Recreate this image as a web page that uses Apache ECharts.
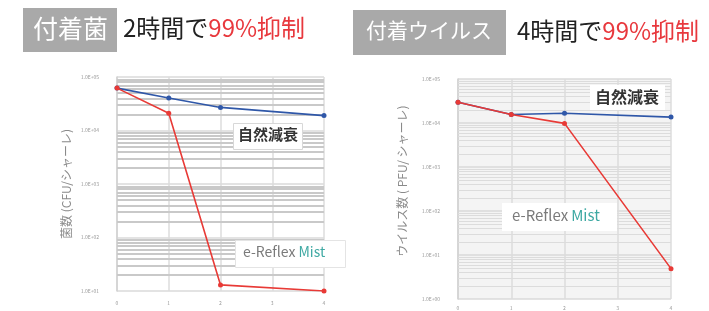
<!DOCTYPE html>
<html>
<head>
<meta charset="utf-8">
<style>
  html, body { margin: 0; padding: 0; background: #fff; }
  #chart-wrapper { width: 709px; height: 311px; }
</style>
<script src="https://cdn.jsdelivr.net/npm/echarts@6/dist/echarts.min.js"></script>
</head>
<body>
<div id="chart-wrapper"></div>
<script>
// hours after treatment
const hours = ["0", "1", "2", "3", "4"];

// left: adhered bacteria (CFU/dish)
const bacteriaNatural = [62000, 40600, 27000, null, 19000];
const bacteriaMist = [62000, 21000, 13, null, 10];

// right: adhered virus (PFU/dish)
const virusNatural = [29500, 15600, 16700, null, 13600];
const virusMist = [29500, 15600, 9800, null, 4.9];

// minor grid multipliers inside each decade
const minorSteps = [2, 3, 4, 5, 6, 7, 8, 9];
const bacteriaDecades = [10, 100, 1000, 10000];
const virusDecades = [1, 10, 100, 1000, 10000];

const RED = "#e83a36";
const BLUE = "#2f57a8";
const FONT = "'Noto Sans CJK JP', 'Noto Sans', sans-serif";

const sciLabel = (v) => {
  const e = Math.round(Math.log10(v));
  return "1.0E" + (e < 0 ? "-" : "+") + String(Math.abs(e)).padStart(2, "0");
};

const minorLines = (decades) => {
  const out = [];
  decades.forEach((d) => {
    minorSteps.forEach((m) => out.push({ yAxis: d * m }));
  });
  return out;
};

const chartDom = document.getElementById("chart-wrapper");
const chart = echarts.init(chartDom, null, { renderer: "canvas" });

const xAxisBase = (gridIndex, margin) => ({
  type: "category",
  gridIndex: gridIndex,
  data: hours,
  boundaryGap: false,
  axisLine: { show: false },
  axisTick: { show: false },
  axisLabel: { color: "#999", fontSize: 5, margin: margin, fontFamily: FONT },
  splitLine: { show: true, lineStyle: { color: "#dcdcdc", width: 1.5 } },
});

const yAxisBase = (gridIndex, min, name, nameGap) => ({
  type: "log",
  logBase: 10,
  gridIndex: gridIndex,
  min: min,
  max: 100000,
  name: name,
  nameLocation: "middle",
  nameRotate: 90,
  nameGap: nameGap,
  nameTextStyle: { color: "#8a8a8a", fontSize: 12, fontFamily: FONT },
  axisLine: { show: true, lineStyle: { color: "#d0d0d0", width: 1.5 } },
  axisTick: { show: false },
  axisLabel: { color: "#999", fontSize: 5, margin: 18, formatter: sciLabel, fontFamily: FONT },
  splitLine: { show: true, lineStyle: { color: "#dadada", width: 1.5 } },
});

const lineSeries = (name, data, color, idx, z) => ({
  name: name,
  type: "line",
  xAxisIndex: idx,
  yAxisIndex: idx,
  data: data,
  connectNulls: true,
  symbol: "circle",
  symbolSize: 5,
  z: z,
  lineStyle: { color: color, width: 1.6 },
  itemStyle: { color: color },
});

const option = {
  backgroundColor: "#ffffff",
  animation: false,
  grid: [
    { left: 117, top: 77, width: 207, height: 214, show: true, backgroundColor: "#ffffff", borderWidth: 0 },
    { left: 458, top: 79, width: 213, height: 220, show: true, backgroundColor: "#f4f4f4", borderWidth: 0 },
  ],
  xAxis: [xAxisBase(0, 10), xAxisBase(1, 7)],
  yAxis: [
    yAxisBase(0, 10, "菌数 (CFU/シャーレ)", 45),
    Object.assign(yAxisBase(1, 1, "ウイルス数 ( PFU/ シャーレ)", 50), {
      nameTextStyle: { color: "#8a8a8a", fontSize: 12, fontFamily: FONT, padding: [0, 0, 0, 16] },
    }),
  ],
  series: [
    Object.assign(lineSeries("自然減衰", bacteriaNatural, BLUE, 0, 3), {
      markLine: {
        silent: true,
        symbol: "none",
        label: { show: false },
        z: 1,
        lineStyle: { color: "#c9c9c9", width: 2, type: "solid" },
        data: minorLines(bacteriaDecades),
      },
    }),
    lineSeries("e-Reflex Mist", bacteriaMist, RED, 0, 4),
    Object.assign(lineSeries("自然減衰", virusNatural, BLUE, 1, 3), {
      markLine: {
        silent: true,
        symbol: "none",
        label: { show: false },
        z: 1,
        lineStyle: { color: "#dcdcdc", width: 1, type: "solid" },
        data: minorLines(virusDecades),
      },
    }),
    lineSeries("e-Reflex Mist", virusMist, RED, 1, 4),
  ],
  graphic: [
    // left title
    { type: "rect", left: 23, top: 8, shape: { width: 94, height: 44 }, style: { fill: "#a9a9a9" } },
    { type: "text", left: 33, top: 16, style: { text: "付着菌", fill: "#ffffff", font: "25px " + FONT } },
    {
      type: "text", left: 123, top: 16,
      style: {
        text: "{a|2時間で}{b|99%抑制}",
        rich: {
          a: { fill: "#222", fontSize: 24, fontFamily: FONT },
          b: { fill: "#e8383d", fontSize: 24, fontFamily: FONT },
        },
      },
    },
    // right title
    { type: "rect", left: 353, top: 10, shape: { width: 153, height: 45 }, style: { fill: "#a9a9a9" } },
    { type: "text", left: 366, top: 20, style: { text: "付着ウイルス", fill: "#ffffff", font: "21px " + FONT } },
    {
      type: "text", left: 517, top: 19,
      style: {
        text: "{a|4時間で}{b|99%抑制}",
        rich: {
          a: { fill: "#222", fontSize: 24, fontFamily: FONT },
          b: { fill: "#e8383d", fontSize: 24, fontFamily: FONT },
        },
      },
    },
    // left annotations
    { type: "rect", left: 233, top: 123, z: 10, shape: { width: 69, height: 26 }, style: { fill: "#ffffff", stroke: "#d8d8d8" } },
    { type: "text", left: 238, top: 127, z: 11, style: { text: "自然減衰", fill: "#333", font: "bold 15px " + FONT } },
    { type: "rect", left: 235, top: 240, z: 10, shape: { width: 110, height: 27 }, style: { fill: "#ffffff", stroke: "#e4e4e4" } },
    {
      type: "text", left: 243, top: 245, z: 11,
      style: {
        text: "{g|e-Reflex}{t|Mist}",
        rich: {
          g: { fill: "#7a7a7a", fontSize: 14, fontFamily: FONT },
          t: { fill: "#3fa9a3", fontSize: 14, fontFamily: FONT, padding: [0, 0, 0, 3] },
        },
      },
    },
    // right annotations
    { type: "rect", left: 590, top: 85, z: 10, shape: { width: 75, height: 25 }, style: { fill: "#ffffff" } },
    { type: "text", left: 595, top: 89, z: 11, style: { text: "自然減衰", fill: "#333", font: "bold 16px " + FONT } },
    { type: "rect", left: 502, top: 203, z: 10, shape: { width: 115, height: 28 }, style: { fill: "#ffffff" } },
    {
      type: "text", left: 512, top: 208, z: 11,
      style: {
        text: "{g|e-Reflex}{t|Mist}",
        rich: {
          g: { fill: "#7a7a7a", fontSize: 15, fontFamily: FONT },
          t: { fill: "#3fa9a3", fontSize: 15, fontFamily: FONT, padding: [0, 0, 0, 3] },
        },
      },
    },
  ],
};

option && chart.setOption(option);
</script>
</body>
</html>
